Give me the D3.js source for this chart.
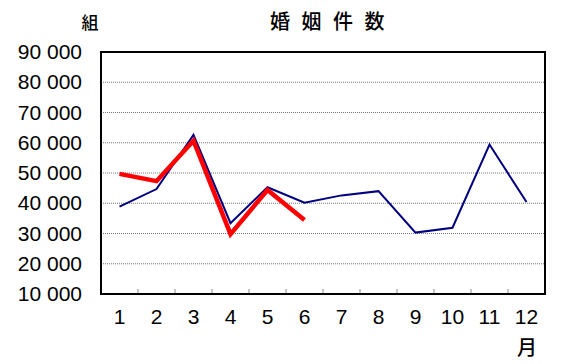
<!DOCTYPE html>
<html><head><meta charset="utf-8">
<script src="https://cdn.jsdelivr.net/npm/d3@7"></script>
<style>body{margin:0;background:#fff}svg{display:block}</style>
</head><body>
<script>
const months = ["1","2","3","4","5","6","7","8","9","10","11","12"];
const prevYear = [38900, 44700, 62600, 33400, 45300, 40200, 42600, 44000, 30300, 31900, 59400, 40400];
const curYear = [49700, 47300, 60700, 29800, 44400, 34500];
const yTicks = [10000, 20000, 30000, 40000, 50000, 60000, 70000, 80000, 90000];
const title = "婚 姻 件 数";
const unitY = "組";
const unitX = "月";

const W = 568, H = 364;
const m = {l:101, r:545, t:52, b:294};
const svg = d3.select("body").append("svg").attr("width", W).attr("height", H);
const x = d3.scaleBand().domain(months).range([m.l, m.r]);
const y = d3.scaleLinear().domain([10000, 90000]).range([m.b, m.t]);
const fmt = v => d3.format(",")(v).replace(",", " ");
const font = "'Liberation Sans', Arial, sans-serif";
const cjk = "'Noto Sans CJK JP', sans-serif";

// gridlines
svg.append("g").selectAll("line").data(yTicks.filter(v => v > 10000 && v < 90000)).join("line")
  .attr("x1", m.l).attr("x2", m.r).attr("y1", d => y(d)).attr("y2", d => y(d))
  .attr("stroke", "#777").attr("stroke-width", 1).attr("stroke-dasharray", "1,1");

// y axis labels
const yAxis = d3.axisLeft(y).tickValues(yTicks).tickFormat(fmt).tickSize(0).tickPadding(19);
const ya = svg.append("g").attr("transform", `translate(${m.l},0)`).call(yAxis);
ya.select(".domain").remove();
ya.selectAll("text").attr("font-family", font).attr("font-size", 21).attr("fill", "#000");

// x axis ticks (band boundaries)
svg.append("g").selectAll("line").data(months.slice(1)).join("line")
  .attr("x1", d => x(d)).attr("x2", d => x(d)).attr("y1", m.b).attr("y2", m.b - 5)
  .attr("stroke", "#888").attr("stroke-width", 1);
const xAxis = d3.axisBottom(x).tickSize(0).tickPadding(15);
const xa = svg.append("g").attr("transform", `translate(0,${m.b})`).call(xAxis);
xa.select(".domain").remove();
xa.selectAll("text").attr("font-family", font).attr("font-size", 21).attr("fill", "#000");

// lines
const line = d3.line().x((d, i) => x(months[i]) + x.bandwidth() / 2).y(d => y(d));
svg.append("path").datum(prevYear).attr("d", line).attr("fill", "none")
  .attr("stroke", "#000080").attr("stroke-width", 2).attr("stroke-linejoin", "miter");
svg.append("path").datum(curYear).attr("d", line).attr("fill", "none")
  .attr("stroke", "#ff0000").attr("stroke-width", 4.5).attr("stroke-linejoin", "miter");

// border
svg.append("rect").attr("x", m.l).attr("y", m.t).attr("width", m.r - m.l).attr("height", m.b - m.t)
  .attr("fill", "none").attr("stroke", "#000").attr("stroke-width", 2);

// titles
svg.append("text").attr("x", 329).attr("y", 29).attr("text-anchor", "middle")
  .attr("font-family", cjk).attr("font-size", 20).attr("font-weight", 500)
  .attr("letter-spacing", 3.5).text(title);
svg.append("text").attr("x", 90).attr("y", 29).attr("text-anchor", "middle")
  .attr("font-family", cjk).attr("font-size", 17).attr("font-weight", 500).text(unitY);
svg.append("text").attr("x", 527).attr("y", 355).attr("text-anchor", "middle")
  .attr("font-family", cjk).attr("font-size", 20).attr("font-weight", 500).text(unitX);
</script>
</body></html>
